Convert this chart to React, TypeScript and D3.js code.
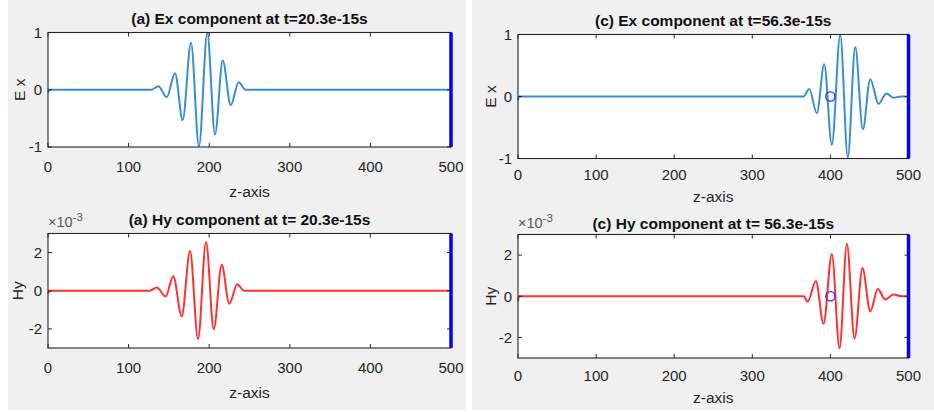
import React from "react";
import * as d3 from "d3";

// ---- data (z in cells, Ex unitless, Hy in 1e-3) ----
const zTicks = [0, 100, 200, 300, 400, 500];
const exTicks = [-1, 0, 1];
const hyTicks = [-2, 0, 2];

const zExA = [0, 2, 118, 128, 136.9, 147.3, 157.6, 167.1, 177.4, 187.3, 197.6, 207.2, 216.8, 226.7, 236.6, 245, 500];
const exA = [-0.05, 0, 0, 0, 0.06, -0.13, 0.29, -0.53, 0.82, -0.99, 0.99, -0.78, 0.51, -0.27, 0.13, 0, 0];

const zHyA = [0, 2, 118, 126, 134.9, 146.0, 155.4, 165.9, 176.2, 186.1, 196.1, 205.6, 215.5, 224.9, 234.9, 243, 500];
const hyA = [-0.15, 0, 0, 0, 0.17, -0.3, 0.76, -1.34, 2.08, -2.53, 2.56, -2.02, 1.36, -0.68, 0.34, 0, 0];

const zExC = [0, 1.5, 365.6, 372.9, 382.6, 392.1, 401.8, 412.6, 422.3, 431.8, 441.5, 451, 461.6, 471.5, 480.8, 490, 500];
const exC = [-0.06, 0, 0, 0.12, -0.27, 0.52, -0.78, 0.99, -0.98, 0.8, -0.53, 0.28, -0.12, 0.05, -0.02, 0, 0];

const zHyC = [0, 1.5, 366, 370.7, 381.4, 391.2, 401.8, 411.7, 421.1, 430.9, 441.1, 451, 460.7, 470.2, 480.8, 492, 500];
const hyC = [-0.25, 0, 0, -0.27, 0.74, -1.34, 2.05, -2.52, 2.55, -2.05, 1.37, -0.74, 0.35, -0.16, 0.08, 0, 0];

const boundaryZ = 500;
const probe = { z: 400, v: 0 };

const FONT = "'Liberation Sans', Arial, Helvetica, sans-serif";
const TXT = "#262626";

type PanelProps = {
  x0: number; x1: number; y0: number; y1: number;
  z: number[]; v: number[]; yDomain: [number, number]; yTicks: number[];
  color: string; title: string; titleY: number; ylabel: string; ylabelX: number;
  exponent?: boolean; marker?: boolean; tickLabelY: number; xlabelY: number;
};

function Panel(p: PanelProps) {
  const x = d3.scaleLinear().domain([0, 500]).range([p.x0, p.x1]);
  const y = d3.scaleLinear().domain(p.yDomain).range([p.y1, p.y0]);
  const pts = p.z.map((zz, i) => [zz, p.v[i]] as [number, number]);
  const line = d3.line<[number, number]>()
    .x(d => x(d[0]))
    .y(d => y(d[1]))
    .curve(d3.curveMonotoneX);
  const cx = (p.x0 + p.x1) / 2;
  const tl = 4;
  return (
    <g fontFamily={FONT}>
      <rect x={p.x0} y={p.y0} width={p.x1 - p.x0} height={p.y1 - p.y0} fill="#fff" />
      <path d={line(pts) || ""} fill="none" stroke={p.color} strokeWidth={2} strokeLinejoin="round" />
      {p.marker && (
        <circle cx={x(probe.z)} cy={y(probe.v)} r={4.6} fill="none" stroke="#2a2aff" strokeWidth={1.3} />
      )}
      {zTicks.map(t => (
        <g key={"x" + t}>
          <line x1={x(t)} x2={x(t)} y1={p.y1} y2={p.y1 - tl} stroke={TXT} />
          <line x1={x(t)} x2={x(t)} y1={p.y0} y2={p.y0 + tl} stroke={TXT} />
          <text x={x(t)} y={p.tickLabelY} textAnchor="middle" fontSize={15} fill={TXT}>{t}</text>
        </g>
      ))}
      {p.yTicks.map(t => (
        <g key={"y" + t}>
          <line x1={p.x0} x2={p.x0 + tl} y1={y(t)} y2={y(t)} stroke={TXT} />
          <line x1={p.x1} x2={p.x1 - tl} y1={y(t)} y2={y(t)} stroke={TXT} />
        </g>
      ))}
      {[p.yDomain[0], ...p.yTicks, p.yDomain[1]]
        .filter((t, i, a) => a.indexOf(t) === i && (p.yTicks.includes(t) || !p.exponent))
        .map(t => (
          <text key={"yl" + t} x={p.x0 - 6} y={y(t)} dy="0.36em" textAnchor="end" fontSize={15} fill={TXT}>{t}</text>
        ))}
      <rect x={p.x0} y={p.y0} width={p.x1 - p.x0} height={p.y1 - p.y0} fill="none" stroke={TXT} strokeWidth={1.1} />
      <line x1={x(boundaryZ)} x2={x(boundaryZ)} y1={p.y0} y2={p.y1} stroke="#0000ff" strokeWidth={3.5} />
      <text x={cx} y={p.titleY} textAnchor="middle" fontSize={15.5} fontWeight="bold" fill="#111">{p.title}</text>
      <text x={cx} y={p.xlabelY} textAnchor="middle" fontSize={15.5} fill={TXT}>z-axis</text>
      <text transform={`translate(${p.ylabelX},${(p.y0 + p.y1) / 2}) rotate(-90)`} textAnchor="middle" fontSize={15.5} fill={TXT}>{p.ylabel}</text>
      {p.exponent && (
        <text x={p.x0} y={p.y0 - 7} fontSize={14.5} fill="#555">
          ×10<tspan fontSize={11.5} dy={-6}>-3</tspan>
        </text>
      )}
    </g>
  );
}

export default function App() {
  return (
    <svg width={934} height={412} style={{ position: "absolute", left: 0, top: 0 }}>
      <rect x={0} y={0} width={934} height={412} fill="#fff" />
      <rect x={8} y={0} width={458} height={410} fill="#f0f0f0" />
      <rect x={472} y={0} width={462} height={410} fill="#f0f0f0" />
      <Panel x0={48} x1={451} y0={32.5} y1={147} z={zExA} v={exA} yDomain={[-1, 1]} yTicks={exTicks}
        color="#3a8ed0" title="(a) Ex component at t=20.3e-15s" titleY={23.5} ylabel="E x" ylabelX={25}
        tickLabelY={172} xlabelY={197} />
      <Panel x0={48} x1={451} y0={233.5} y1={348} z={zHyA} v={hyA} yDomain={[-3, 3]} yTicks={hyTicks}
        color="#ff3030" title="(a) Hy component at t= 20.3e-15s" titleY={225} ylabel="Hy" ylabelX={23}
        exponent tickLabelY={373} xlabelY={398} />
      <Panel x0={518} x1={908.5} y0={34.5} y1={158.5} z={zExC} v={exC} yDomain={[-1, 1]} yTicks={exTicks}
        color="#3a8ed0" title="(c) Ex component at t=56.3e-15s" titleY={26} ylabel="E x" ylabelX={496}
        marker tickLabelY={180} xlabelY={202} />
      <Panel x0={518} x1={908.5} y0={234.5} y1={358} z={zHyC} v={hyC} yDomain={[-3, 3]} yTicks={hyTicks}
        color="#ff3030" title="(c) Hy component at t= 56.3e-15s" titleY={229} ylabel="Hy" ylabelX={496}
        exponent marker tickLabelY={381} xlabelY={403} />
    </svg>
  );
}
